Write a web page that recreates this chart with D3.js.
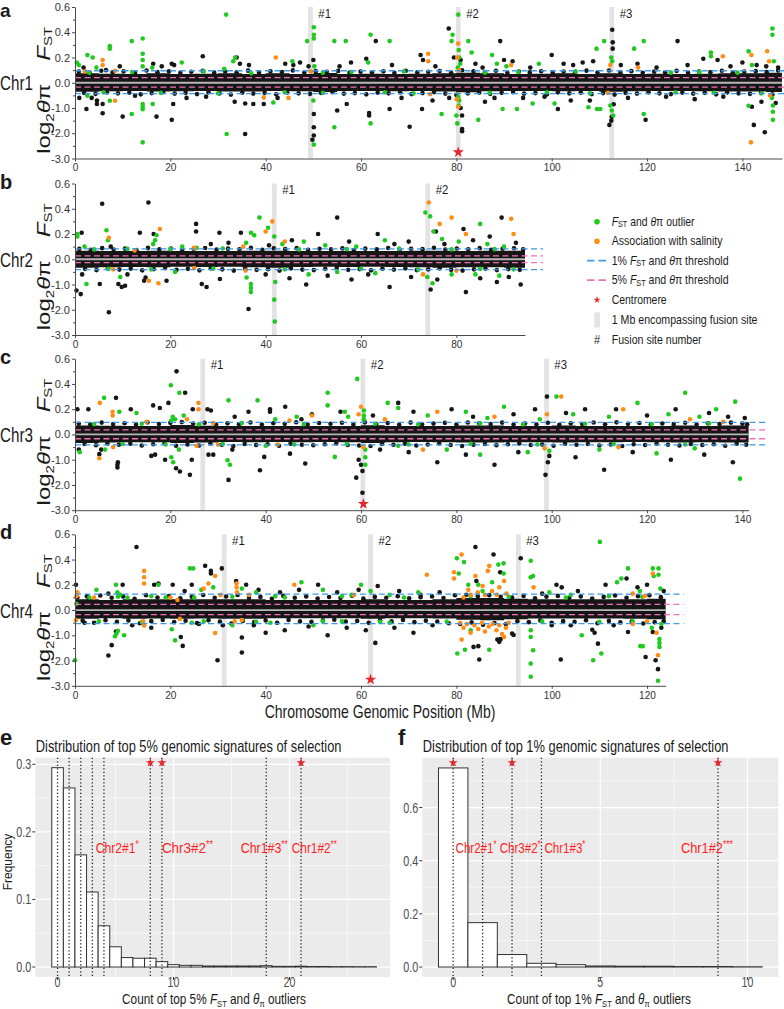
<!DOCTYPE html>
<html><head><meta charset="utf-8">
<script src="https://cdn.jsdelivr.net/npm/d3@7"></script>
<style>body{margin:0;background:#fff}text{font-family:"Liberation Sans",Arial,sans-serif}</style>
</head><body><svg id="c" width="784" height="1009"></svg>
<script>
// ---------------- DATA ----------------
const chromNames = ["Chr1","Chr2","Chr3","Chr4"];
const chromLengths = [148.3, 94.4, 141.3, 123.9];
const yTickLabels = ["0.6","0.4","0.2","0.0","-1.0","-2.0","-3.0"];
const fusionSites = [[49.4,80.4,112.6],[41.8,74.0],[26.8,60.4,98.9],[31.3,62.0,93.0]];
const centromeres = [80.4, null, 60.5, 62.0];
// thresholds: [1% FST, 1% log2pi, 5% FST, 5% log2pi]
const thresholds = [[0.095,-0.43,0.04,-0.17],[0.082,-0.41,0.026,-0.13],[0.095,-0.41,0.037,-0.17],[0.126,-0.54,0.045,-0.18]];
// dense core band: [pos, FST top, log2pi bottom]
const chr1Band = [[0,0.075,-0.36],[5,0.072,-0.34],[10,0.07,-0.33],[15,0.075,-0.35],[20,0.07,-0.34],[25,0.072,-0.33],[30,0.075,-0.35],[35,0.07,-0.35],[40,0.075,-0.33],[45,0.07,-0.34],[50,0.078,-0.37],[55,0.07,-0.33],[60,0.072,-0.33],[65,0.07,-0.34],[70,0.072,-0.33],[75,0.075,-0.35],[80,0.08,-0.38],[85,0.075,-0.34],[90,0.07,-0.33],[95,0.072,-0.33],[100,0.075,-0.34],[105,0.07,-0.33],[110,0.075,-0.36],[115,0.07,-0.34],[120,0.072,-0.33],[125,0.07,-0.33],[130,0.072,-0.34],[135,0.075,-0.35],[140,0.075,-0.35],[145,0.08,-0.37],[148.3,0.08,-0.37]];
const chr2Band = [[0,0.068,-0.34],[5,0.065,-0.32],[10,0.065,-0.31],[15,0.068,-0.32],[20,0.065,-0.3],[25,0.065,-0.31],[30,0.065,-0.3],[35,0.068,-0.32],[40,0.068,-0.34],[45,0.065,-0.31],[50,0.065,-0.3],[55,0.065,-0.31],[60,0.065,-0.3],[65,0.065,-0.31],[70,0.068,-0.32],[75,0.068,-0.34],[80,0.065,-0.32],[85,0.068,-0.32],[90,0.068,-0.34],[94.4,0.068,-0.34]];
const chr3Band = [[0,0.07,-0.34],[5,0.068,-0.32],[10,0.066,-0.31],[15,0.066,-0.31],[20,0.075,-0.34],[25,0.068,-0.32],[30,0.066,-0.3],[35,0.066,-0.31],[40,0.066,-0.3],[45,0.066,-0.31],[50,0.066,-0.3],[55,0.066,-0.31],[60,0.072,-0.34],[65,0.066,-0.31],[70,0.066,-0.3],[75,0.066,-0.31],[80,0.07,-0.32],[85,0.07,-0.32],[90,0.066,-0.31],[95,0.066,-0.31],[100,0.07,-0.32],[105,0.066,-0.31],[110,0.066,-0.31],[115,0.066,-0.3],[120,0.066,-0.31],[125,0.07,-0.32],[130,0.066,-0.31],[135,0.07,-0.32],[140,0.07,-0.32],[141.3,0.07,-0.32]];
const chr4Band = [[0,0.085,-0.34],[5,0.08,-0.32],[10,0.085,-0.34],[15,0.085,-0.33],[20,0.085,-0.34],[25,0.085,-0.33],[30,0.085,-0.34],[35,0.085,-0.34],[40,0.08,-0.32],[45,0.08,-0.32],[50,0.08,-0.32],[55,0.08,-0.32],[60,0.085,-0.34],[65,0.08,-0.32],[70,0.08,-0.32],[75,0.085,-0.33],[80,0.095,-0.38],[85,0.095,-0.4],[90,0.09,-0.36],[95,0.085,-0.33],[100,0.085,-0.33],[105,0.085,-0.33],[110,0.085,-0.33],[115,0.085,-0.34],[120,0.09,-0.36],[123.9,0.09,-0.36]];
// points: [pos Mb, value]; value >= 0 is FST, value < 0 is log2(theta_pi)
const chr1Black = [[1.8,0.12],[6.5,0.1],[9.4,0.13],[16.4,0.15],[18.2,0.13],[20.3,0.15],[20.8,0.14],[26.8,0.21],[33.9,0.2],[34.6,0.15],[36.5,0.14],[44.1,0.15],[45.8,0.14],[47.2,0.16],[49.0,0.13],[50.0,0.18],[55.5,0.13],[57.9,0.16],[61.1,0.19],[63.1,0.33],[66.5,0.14],[72.5,0.22],[73.0,0.18],[75.6,0.13],[78.4,0.43],[79.5,0.2],[80.9,0.18],[84.0,0.15],[85.5,0.12],[89.2,0.33],[90.0,0.18],[91.8,0.17],[95.5,0.12],[100.0,0.22],[102.5,0.15],[104.5,0.14],[106.5,0.16],[108.7,0.17],[112.7,0.42],[112.8,0.32],[112.8,0.27],[114.5,0.14],[118.0,0.15],[122.0,0.12],[126.4,0.33],[128.5,0.14],[131.8,0.19],[134.8,0.18],[137.5,0.13],[140.0,0.16],[143.0,0.14],[145.0,0.13],[147.5,0.12],
[0.9,-0.6],[2.4,-1.04],[3.5,-0.6],[5.8,-1.21],[5.8,-0.84],[4.6,-0.84],[4.6,-0.7],[10.0,-1.34],[12.6,-0.51],[17.1,-1.34],[20.3,-1.47],[20.6,-0.84],[23.4,-0.6],[27.5,-0.55],[33.5,-0.75],[35.7,-2.03],[35.7,-0.82],[37.4,-0.84],[39.6,-0.84],[42.5,-0.6],[49.8,-2.26],[50.1,-2.09],[50.1,-1.76],[50.1,-1.24],[55.0,-1.1],[57.0,-0.84],[61.7,-1.2],[61.7,-1.3],[66.0,-1.04],[68.5,-0.6],[70.2,-1.74],[72.8,-1.04],[75.0,-0.7],[78.5,-0.6],[81.2,-1.83],[81.2,-1.92],[81.2,-1.3],[80.9,-1.0],[86.0,-0.75],[88.0,-0.6],[94.0,-0.6],[98.5,-0.55],[101.3,-1.04],[104.0,-0.7],[108.0,-0.7],[112.1,-1.67],[112.5,-1.5],[112.6,-1.35],[113.0,-0.85],[116.0,-0.6],[119.7,-1.47],[124.0,-0.55],[130.0,-0.65],[136.0,-0.55],[142.4,-1.67],[142.0,-0.95],[144.7,-1.96],[144.0,-0.75],[147.0,-0.8]];
const chr1Fringe = [[0.8,.088],[3.1,.079],[5.5,.095],[7.9,.083],[10.2,.09],[12.6,.077],[15,.097],[17.3,.084],[19.7,.091],[22.1,.078],[24.4,.087],[26.8,.094],[29.2,.08],[31.5,.089],[33.9,.082],[36.3,.096],[38.6,.079],[41,.09],[43.4,.085],[45.7,.098],[48.1,.081],[50.5,.092],[52.8,.086],[55.2,.094],[57.6,.08],[59.9,.088],[62.3,.083],[64.7,.091],[67,.078],[69.4,.095],[71.8,.082],[74.1,.087],[76.5,.093],[78.9,.08],[81.2,.099],[83.6,.09],[86,.084],[88.3,.095],[90.7,.08],[93.1,.088],[95.4,.082],[97.8,.091],[100.2,.078],[102.5,.089],[104.9,.084],[107.3,.096],[109.6,.081],[112,.097],[114.4,.085],[116.7,.092],[119.1,.079],[121.5,.088],[123.8,.083],[126.2,.094],[128.6,.08],[130.9,.089],[133.3,.084],[135.7,.095],[138,.081],[140.4,.088],[142.8,.092],[145.1,.084],[147.5,.097],
[1.9,-.4],[4.3,-.44],[6.7,-.38],[9,-.42],[11.4,-.39],[13.8,-.46],[16.1,-.41],[18.5,-.37],[20.9,-.43],[23.2,-.4],[25.6,-.45],[28,-.38],[30.3,-.42],[32.7,-.47],[35.1,-.39],[37.4,-.43],[39.8,-.4],[42.2,-.46],[44.5,-.38],[46.9,-.42],[49.3,-.44],[51.6,-.4],[54,-.37],[56.4,-.43],[58.7,-.41],[61.1,-.46],[63.5,-.39],[65.8,-.42],[68.2,-.38],[70.6,-.45],[72.9,-.41],[75.3,-.37],[77.7,-.43],[80,-.48],[82.4,-.42],[84.8,-.39],[87.1,-.44],[89.5,-.4],[91.9,-.37],[94.2,-.43],[96.6,-.41],[99,-.46],[101.3,-.38],[103.7,-.42],[106.1,-.39],[108.4,-.45],[110.8,-.41],[113.2,-.47],[115.5,-.4],[117.9,-.43],[120.3,-.38],[122.6,-.42],[125,-.45],[127.4,-.39],[129.7,-.43],[132.1,-.4],[134.5,-.46],[136.8,-.38],[139.2,-.42],[141.6,-.44],[143.9,-.4],[146.3,-.46]];
const chr1Green = [[0.4,0.16],[0.8,0.14],[2.6,0.22],[3.7,0.2],[4.5,0.12],[7.3,0.29],[7.3,0.27],[11.9,0.33],[14.2,0.35],[14.2,0.23],[14.2,0.18],[14.2,0.13],[16.2,0.12],[22.4,0.16],[31.7,0.54],[31.3,0.11],[33.2,0.17],[33.6,0.2],[45.6,0.17],[48.7,0.33],[50.1,0.44],[50.1,0.38],[50.1,0.35],[50.2,0.13],[54.4,0.33],[56.8,0.33],[62.0,0.38],[61.5,0.16],[66.0,0.33],[79.2,0.38],[79.0,0.33],[80.4,0.54],[80.5,0.26],[80.6,0.2],[80.8,0.15],[80.3,0.12],[82.5,0.33],[83.2,0.24],[87.5,0.22],[88.5,0.15],[90.5,0.13],[97.3,0.15],[109.4,0.27],[111.0,0.33],[112.5,0.2],[112.7,0.17],[117.3,0.27],[119.3,0.33],[133.4,0.24],[133.4,0.21],[141.3,0.25],[142.0,0.14],[146.3,0.43],[146.3,0.38],[146.6,0.17],
[3,0.08],[12,0.085],[27,0.09],[37,0.075],[52,0.08],[58,0.085],[69,0.09],[86,0.08],[93,0.085],[105,0.09],[125,0.08],[131,0.085],[139,0.08],
[2.6,-0.51],[7.3,-0.71],[11.9,-1.24],[14.2,-0.84],[14.2,-0.95],[14.2,-1.05],[14.2,-2.36],[16.3,-0.84],[31.8,-2.03],[41.6,-0.78],[50.1,-2.45],[50.0,-0.7],[54.4,-1.76],[62.0,-1.61],[76.9,-1.24],[80.2,-1.61],[80.0,-1.3],[80.5,-0.9],[80.6,-0.7],[80.4,-0.55],[84.6,-1.47],[89.7,-1.04],[92.7,-1.04],[96.0,-0.82],[100.6,-0.82],[107.7,-0.97],[109.5,-1.04],[110.2,-1.04],[112.3,-0.9],[112.6,-1.1],[112.9,-1.3],[119.3,-1.24],[141.3,-0.91],[146.4,-1.47],[146.4,-1.15],[146.4,-0.9],[146.2,-0.6],
[6,-0.38],[18,-0.4],[30,-0.42],[44,-0.38],[52,-0.4],[65,-0.38],[71,-0.42],[87,-0.4],[99,-0.38],[108,-0.42],[126,-0.38],[134,-0.4],[144,-0.42]];
const chr1Orange = [[5.8,0.18],[5.8,0.14],[8.4,0.095],[2.1,0.09],[42.1,0.2],[49.5,0.09],[74.1,0.23],[74.1,0.17],[80.4,0.31],[80.2,0.2],[80.6,0.1],[91.5,0.14],[112.3,0.14],[118.1,0.12],[135.9,0.21],[141.9,0.22],[145.2,0.25],[145.6,0.17],
[8.4,-0.71],[39.6,-0.58],[44.8,-0.6],[74.5,-0.45],[80.4,-0.95],[80.1,-0.65],[111.8,-0.4],[141.8,-2.36],[145.8,-0.5]];
const chr2Black = [[1.4,0.21],[5.7,0.44],[7.5,0.1],[13.6,0.21],[15.4,0.45],[16.5,0.2],[25.4,0.28],[25.4,0.22],[30.3,0.21],[32.2,0.13],[34.8,0.21],[28.5,0.12],[40.7,0.11],[45.5,0.15],[51.0,0.2],[55.0,0.33],[57.5,0.14],[63.5,0.2],[67.0,0.12],[70.0,0.14],[75.7,0.22],[77.5,0.12],[81.5,0.24],[83.5,0.15],[87.0,0.18],[89.5,0.33],[92.5,0.13],
[0.3,-1.24],[1.2,-1.38],[1.5,-0.6],[5.2,-0.98],[7.1,-2.1],[9.1,-0.98],[9.8,-1.1],[10.5,-1.05],[11.0,-0.6],[14.5,-0.85],[14.8,-0.72],[19.2,-0.85],[26.6,-0.98],[27.6,-1.1],[30.4,-0.78],[36.4,-1.97],[40.0,-0.6],[45.0,-0.75],[48.5,-1.0],[53.0,-0.65],[58.0,-0.8],[61.5,-0.6],[66.0,-1.1],[70.5,-0.7],[74.6,-1.2],[76.0,-0.8],[82.0,-1.3],[85.0,-0.75],[88.5,-0.9],[91.0,-0.7],[93.5,-1.0]];
const chr2Fringe = [[0.9,.082],[3.3,.074],[5.7,.088],[8.1,.077],[10.5,.084],[12.9,.072],[15.3,.09],[17.7,.078],[20.1,.085],[22.5,.073],[24.9,.083],[27.3,.089],[29.7,.076],[32.1,.084],[34.5,.079],[36.9,.09],[39.3,.075],[41.7,.087],[44.1,.08],[46.5,.088],[48.9,.074],[51.3,.083],[53.7,.078],[56.1,.086],[58.5,.073],[60.9,.084],[63.3,.079],[65.7,.089],[68.1,.075],[70.5,.083],[72.9,.08],[75.3,.091],[77.7,.077],[80.1,.085],[82.5,.079],[84.9,.088],[87.3,.074],[89.7,.083],[92.1,.087],[94,.078],
[2.1,-.38],[4.5,-.43],[6.9,-.36],[9.3,-.41],[11.7,-.37],[14.1,-.44],[16.5,-.39],[18.9,-.35],[21.3,-.42],[23.7,-.38],[26.1,-.44],[28.5,-.36],[30.9,-.4],[33.3,-.45],[35.7,-.38],[38.1,-.42],[40.5,-.39],[42.9,-.45],[45.3,-.36],[47.7,-.41],[50.1,-.43],[52.5,-.38],[54.9,-.35],[57.3,-.42],[59.7,-.39],[62.1,-.44],[64.5,-.37],[66.9,-.41],[69.3,-.36],[71.7,-.43],[74.1,-.4],[76.5,-.36],[78.9,-.42],[81.3,-.45],[83.7,-.4],[86.1,-.37],[88.5,-.43],[90.9,-.39],[93.3,-.42]];
const chr2Green = [[0.5,0.2],[0.5,0.18],[2.0,0.1],[6.6,0.23],[6.9,0.15],[16.4,0.12],[16.8,0.15],[17.1,0.19],[22.5,0.1],[25.5,0.09],[35.9,0.13],[36.9,0.21],[37.6,0.19],[38.7,0.33],[40.5,0.25],[41.8,0.18],[43.5,0.12],[48.0,0.14],[52.5,0.11],[59.0,0.1],[65.0,0.15],[73.5,0.37],[74.5,0.34],[75.2,0.22],[77.0,0.16],[80.5,0.14],[85.0,0.28],[86.5,0.12],[90.0,0.1],
[4,0.078],[11,0.082],[20,0.08],[31,0.085],[47,0.078],[57,0.08],[68,0.084],[79,0.078],[88,0.08],
[2.4,-0.98],[9.5,-0.7],[21.0,-0.5],[36.9,-1.3],[36.9,-1.14],[36.9,-0.98],[36.0,-0.72],[41.9,-2.47],[41.8,-1.6],[42.0,-0.9],[49.0,-0.6],[55.0,-0.5],[63.0,-0.55],[73.9,-0.7],[75.0,-0.95],[79.0,-0.6],[84.0,-0.6],[89.0,-0.65],
[7,-0.38],[16,-0.4],[29,-0.37],[44,-0.4],[60,-0.38],[72,-0.41],[85,-0.38],[92,-0.4]];
const chr2Orange = [[7.1,0.17],[12.5,0.07],[17.8,0.24],[25.0,0.09],[35.3,0.1],[40.0,0.22],[41.4,0.3],[44.0,0.14],[74.2,0.45],[76.5,0.28],[79.0,0.33],[82.0,0.2],[91.5,0.32],[92.0,0.2],
[8.0,-0.4],[15.5,-0.85],[17.5,-0.95],[25.0,-0.35],[35.8,-0.45],[73.0,-0.6],[80.0,-0.45]];
const chr3Black = [[0.5,0.2],[2.8,0.2],[8.6,0.29],[11.7,0.2],[16.4,0.23],[17.8,0.21],[19.6,0.25],[21.3,0.5],[23.1,0.33],[24.7,0.2],[27.8,0.2],[28.5,0.19],[33.5,0.14],[36.4,0.18],[40.9,0.2],[40.9,0.18],[44.1,0.22],[47.5,0.12],[49.7,0.16],[55.7,0.18],[62.5,0.15],[67.8,0.25],[71.0,0.18],[79.0,0.2],[83.5,0.14],[92.0,0.16],[96.5,0.2],[99.0,0.3],[103.0,0.17],[107.0,0.2],[113.5,0.2],[120.0,0.15],[126.0,0.2],[133.0,0.17],[137.0,0.14],[140.5,0.13],
[0.8,-0.6],[5.1,-0.78],[5.5,-0.6],[8.9,-1.31],[8.9,-1.2],[9.0,-1.1],[16.0,-0.85],[16.8,-0.8],[18.9,-1.0],[21.2,-1.34],[22.0,-1.47],[24.1,-1.6],[24.5,-1.0],[28.0,-0.8],[29.0,-0.8],[32.2,-1.8],[33.0,-0.6],[38.8,-1.42],[39.7,-0.89],[45.1,-0.76],[48.3,-1.15],[59.0,-1.71],[60.3,-1.45],[60.3,-2.31],[59.5,-1.0],[60.0,-1.2],[64.0,-0.6],[70.0,-0.7],[76.0,-1.1],[82.0,-0.8],[88.0,-1.2],[93.0,-0.7],[98.7,-1.6],[99.2,-1.1],[99.5,-0.85],[105.0,-0.9],[111.0,-1.4],[117.0,-0.7],[125.0,-1.0],[132.0,-0.8],[138.0,-1.1]];
const chr3Fringe = [[0.8,.085],[3.2,.078],[5.6,.094],[8,.082],[10.4,.089],[12.8,.077],[15.2,.096],[17.6,.083],[20,.092],[22.4,.098],[24.8,.086],[27.2,.093],[29.6,.079],[32,.088],[34.4,.081],[36.8,.095],[39.2,.078],[41.6,.089],[44,.084],[46.4,.097],[48.8,.08],[51.2,.091],[53.6,.085],[56,.093],[58.4,.079],[60.8,.096],[63.2,.082],[65.6,.09],[68,.077],[70.4,.094],[72.8,.081],[75.2,.086],[77.6,.092],[80,.079],[82.4,.095],[84.8,.089],[87.2,.083],[89.6,.094],[92,.079],[94.4,.087],[96.8,.081],[99.2,.093],[101.6,.077],[104,.088],[106.4,.083],[108.8,.095],[111.2,.08],[113.6,.096],[116,.084],[118.4,.091],[120.8,.078],[123.2,.087],[125.6,.082],[128,.093],[130.4,.079],[132.8,.088],[135.2,.083],[137.6,.094],[140,.086],[141,.08],
[2,-.38],[4.4,-.43],[6.8,-.36],[9.2,-.41],[11.6,-.37],[14,-.44],[16.4,-.39],[18.8,-.35],[21.2,-.45],[23.6,-.4],[26,-.44],[28.4,-.36],[30.8,-.41],[33.2,-.46],[35.6,-.38],[38,-.42],[40.4,-.39],[42.8,-.45],[45.2,-.37],[47.6,-.41],[50,-.43],[52.4,-.39],[54.8,-.36],[57.2,-.42],[59.6,-.44],[62,-.46],[64.4,-.38],[66.8,-.41],[69.2,-.37],[71.6,-.44],[74,-.4],[76.4,-.36],[78.8,-.42],[81.2,-.46],[83.6,-.41],[86,-.38],[88.4,-.43],[90.8,-.39],[93.2,-.36],[95.6,-.42],[98,-.4],[100.4,-.45],[102.8,-.37],[105.2,-.41],[107.6,-.38],[110,-.44],[112.4,-.4],[114.8,-.46],[117.2,-.39],[119.6,-.42],[122,-.37],[124.4,-.41],[126.8,-.44],[129.2,-.38],[131.6,-.42],[134,-.39],[136.4,-.45],[138.8,-.37],[140.8,-.41]];
const chr3Green = [[6.1,0.29],[9.3,0.18],[12.9,0.17],[20.1,0.39],[21.9,0.33],[20.5,0.14],[20.2,0.11],[21.0,0.12],[22.8,0.15],[32.2,0.27],[38.3,0.27],[42.0,0.12],[46.5,0.14],[53.0,0.33],[53.0,0.23],[56.6,0.18],[57.3,0.14],[59.2,0.44],[60.6,0.19],[60.6,0.15],[60.6,0.12],[65.6,0.25],[67.8,0.21],[74.0,0.15],[82.0,0.18],[86.5,0.13],[90.0,0.22],[97.5,0.12],[101.0,0.3],[104.5,0.16],[112.0,0.14],[118.0,0.25],[124.5,0.16],[128.0,0.33],[131.0,0.14],[134.5,0.2],[138.5,0.26],
[4,0.082],[14,0.085],[26,0.08],[35,0.09],[48,0.082],[63,0.085],[72,0.08],[85,0.088],[94,0.08],[107,0.085],[121,0.082],[133,0.088],
[1.0,-0.7],[6.3,-0.6],[20.2,-0.9],[20.6,-1.1],[21.8,-0.6],[32.0,-1.02],[32.5,-1.2],[40.0,-0.45],[54.5,-0.89],[60.9,-0.9],[60.9,-1.2],[60.9,-0.6],[67.8,-0.45],[78.0,-0.6],[85.0,-0.8],[95.0,-0.7],[99.5,-0.65],[110.0,-0.6],[122.0,-0.75],[130.0,-0.55],[139.5,-1.75],
[10,-0.38],[19,-0.4],[31,-0.38],[46,-0.4],[57,-0.38],[70,-0.4],[83,-0.37],[97,-0.4],[113,-0.38],[128,-0.4]];
const chr3Orange = [[5.2,0.25],[7.9,0.18],[7.9,0.15],[15.0,0.1],[23.5,0.12],[25.9,0.25],[25.9,0.2],[29.0,0.09],[45.0,0.11],[49.7,0.15],[59.5,0.16],[60.0,0.22],[65.0,0.12],[76.0,0.18],[88.0,0.14],[99.0,0.16],[102.0,0.3],[115.0,0.2],[129.0,0.12],[136.0,0.1],
[5.1,-0.94],[8.0,-0.5],[25.5,-0.45],[30.0,-0.4],[42.5,-0.4],[60.5,-0.5],[73.0,-0.6],[98.5,-0.55],[114.0,-0.5]];
const chr4Black = [[0.2,0.2],[2.5,0.11],[7.0,0.13],[10.0,0.2],[12.9,0.5],[16.6,0.2],[17.5,0.21],[20.5,0.2],[23.0,0.15],[24.5,0.2],[27.3,0.35],[28.5,0.31],[28.5,0.29],[30.8,0.33],[33.8,0.23],[35.9,0.2],[38.5,0.16],[43.0,0.14],[47.0,0.16],[51.0,0.2],[55.0,0.14],[59.5,0.16],[63.5,0.19],[68.0,0.15],[72.5,0.12],[76.5,0.14],[84.0,0.5],[87.8,0.44],[84.2,0.23],[89.2,0.3],[93.5,0.41],[98.0,0.13],[102.1,0.18],[101.0,0.2],[105.5,0.15],[111.3,0.2],[115.7,0.25],[118.0,0.18],[120.0,0.2],[123.5,0.15],
[2.0,-0.5],[7.0,-1.8],[7.7,-1.39],[8.6,-0.85],[12.0,-0.6],[16.0,-0.7],[22.2,-1.07],[22.6,-1.42],[26.0,-0.55],[29.9,-1.99],[31.0,-0.6],[35.0,-1.09],[35.0,-1.68],[37.5,-0.6],[40.0,-0.9],[44.0,-0.8],[49.0,-0.65],[53.0,-1.0],[57.0,-0.7],[61.0,-0.8],[63.0,-1.3],[67.0,-0.7],[71.0,-0.9],[75.0,-0.6],[83.6,-1.46],[84.6,-1.43],[84.8,-1.96],[88.6,-1.17],[89.0,-1.26],[89.3,-1.15],[91.7,-0.93],[92.0,-0.99],[100.0,-0.6],[101.9,-1.96],[104.0,-0.6],[108.5,-0.78],[109.0,-0.9],[109.7,-1.33],[113.0,-0.6],[116.0,-0.87],[119.7,-1.86],[121.2,-0.87],[121.8,-1.99],[122.3,-2.34],[123.0,-0.7]];
const chr4Fringe = [[0.5,.1],[2.9,.092],[5.3,.115],[7.7,.098],[10.1,.108],[12.5,.09],[14.9,.118],[17.3,.1],[19.7,.111],[22.1,.094],[24.5,.105],[26.9,.119],[29.3,.097],[31.7,.107],[34.1,.12],[36.5,.095],[38.9,.104],[41.3,.09],[43.7,.112],[46.1,.097],[48.5,.108],[50.9,.092],[53.3,.103],[55.7,.096],[58.1,.113],[60.5,.091],[62.9,.104],[65.3,.098],[67.7,.11],[70.1,.093],[72.5,.102],[74.9,.108],[77.3,.095],[79.7,.117],[82.1,.121],[84.5,.11],[86.9,.118],[89.3,.105],[91.7,.099],[94.1,.112],[96.5,.094],[98.9,.106],[101.3,.112],[103.7,.097],[106.1,.108],[108.5,.092],[110.9,.104],[113.3,.115],[115.7,.098],[118.1,.11],[120.5,.118],[122.9,.102],
[1.6,-.42],[4,-.5],[6.4,-.4],[8.8,-.47],[11.2,-.41],[13.6,-.52],[16,-.44],[18.4,-.39],[20.8,-.48],[23.2,-.42],[25.6,-.51],[28,-.4],[30.4,-.46],[32.8,-.53],[35.2,-.43],[37.6,-.48],[40,-.41],[42.4,-.5],[44.8,-.39],[47.2,-.45],[49.6,-.47],[52,-.41],[54.4,-.38],[56.8,-.46],[59.2,-.43],[61.6,-.5],[64,-.4],[66.4,-.45],[68.8,-.39],[71.2,-.48],[73.6,-.42],[76,-.46],[78.4,-.52],[80.8,-.55],[83.2,-.49],[85.6,-.58],[88,-.51],[90.4,-.56],[92.8,-.44],[95.2,-.48],[97.6,-.41],[100,-.5],[102.4,-.44],[104.8,-.47],[107.2,-.4],[109.6,-.52],[112,-.43],[114.4,-.49],[116.8,-.45],[119.2,-.53],[121.6,-.48],[123.5,-.44]];
const chr4Green = [[0.3,0.05],[4.5,0.16],[8.6,0.2],[8.9,0.14],[9.5,0.12],[11.0,0.1],[17.5,0.2],[19.0,0.1],[24.1,0.33],[24.8,0.33],[26.5,0.16],[29.0,0.18],[35.0,0.17],[38.0,0.14],[42.0,0.11],[47.5,0.22],[52.0,0.16],[58.0,0.12],[60.0,0.2],[62.0,0.15],[66.0,0.12],[72.0,0.14],[80.1,0.41],[81.6,0.38],[80.5,0.29],[82.5,0.2],[84.6,0.2],[88.8,0.36],[89.9,0.37],[89.9,0.29],[85.5,0.15],[87.5,0.22],[95.6,0.39],[95.6,0.26],[96.1,0.27],[99.5,0.14],[104.0,0.12],[110.1,0.54],[113.7,0.22],[114.6,0.25],[116.0,0.33],[118.5,0.15],[121.2,0.33],[122.4,0.33],[121.4,0.27],[122.4,0.28],[122.8,0.17],
[3,0.1],[9,0.105],[16,0.11],[25,0.1],[33,0.105],[44,0.1],[56,0.11],[69,0.1],[83,0.11],[91,0.105],[103,0.1],[112,0.11],[119,0.105],
[0.0,-1.99],[8.7,-0.93],[9.0,-0.82],[8.4,-1.04],[10.3,-1.0],[20.3,-0.76],[21.0,-1.2],[24.5,-0.5],[33.0,-0.6],[41.0,-0.5],[50.0,-0.6],[56.0,-0.45],[66.0,-0.5],[80.2,-1.72],[81.8,-1.57],[86.9,-1.57],[83.0,-0.8],[95.6,-0.8],[95.6,-1.07],[96.1,-1.59],[95.6,-2.12],[95.6,-2.64],[106.3,-1.0],[108.7,-1.99],[110.4,-1.72],[118.6,-1.43],[119.1,-1.43],[122.6,-1.46],[122.6,-1.3],[122.6,-1.15],[122.3,-2.8],[121.0,-0.7],[123.0,-0.55],
[5,-0.45],[14,-0.48],[27,-0.45],[38,-0.47],[52,-0.45],[64,-0.47],[78,-0.46],[98,-0.45],[110,-0.47],[117,-0.45]];
const chr4Orange = [[0.5,0.14],[0.3,0.11],[4.0,0.1],[14.5,0.31],[14.5,0.26],[14.5,0.21],[20.0,0.1],[21.5,0.08],[27.0,0.17],[28.0,0.21],[29.4,0.27],[30.5,0.12],[33.9,0.21],[33.9,0.18],[34.0,0.14],[36.5,0.12],[46.0,0.2],[58.5,0.12],[73.8,0.28],[79.5,0.3],[79.5,0.25],[81.1,0.44],[84.0,0.27],[86.9,0.35],[86.6,0.31],[90.0,0.23],[82.5,0.16],[83.0,0.12],[84.5,0.14],[85.5,0.19],[86.0,0.12],[87.5,0.15],[88.5,0.12],[89.0,0.18],[90.5,0.13],[81.5,0.1],[96.2,0.18],[121.2,0.29],[117.0,0.13],[119.5,0.11],
[0.2,-0.4],[14.5,-0.61],[14.3,-0.45],[22.0,-0.35],[29.4,-0.91],[33.5,-0.45],[35.0,-0.4],[81.1,-1.17],[80.8,-0.5],[81.5,-0.7],[82.2,-0.55],[83.0,-0.9],[83.8,-0.6],[84.6,-0.75],[85.4,-0.5],[86.0,-0.85],[86.8,-0.65],[87.6,-0.55],[88.4,-0.8],[89.0,-0.6],[89.6,-0.95],[90.0,-1.07],[90.4,-0.7],[91.0,-0.5],[117.0,-0.55],[120.0,-0.45],[122.3,-1.79],[122.0,-0.9]];
// histograms (frequency by outlier count)
const top5Freq = [0.295,0.265,0.166,0.111,0.061,0.030,0.014,0.013,0.013,0.008,0.0035,0.0025,0.0025,0.0015,0.0015,0.0015,0.0015,0.0015,0.002,0.001,0.001,0.0012,0.0008,0.0008,0.0006,0.0006,0.0005,0.0005];
const top1Freq = [0.749,0.167,0.047,0.014,0.009,0.004,0.003,0.003,0.002,0.002,0.001];
const top5Lines = [0,1,2,3,4,8,9,18,21];
const top5Stars = [8,9,21];
const top5Labels = [["Chr2#1","*",3.3],["Chr3#2","**",9.0],["Chr1#3","**",15.8],["Chr1#2","**",20.2]];
const top1Lines = [0,1,2,3,9];
const top1Stars = [0,2,9];
const top1Labels = [["Chr2#1","*",0.08],["Chr3#2","*",1.58],["Chr1#3","*",3.1],["Chr1#2","***",7.74]];

// ---------------- DRAWING ----------------
const svg = d3.select("#c");
const SQ = 0.76;
function txt(parent, x, y, parts, o = {}) {
  const g = parent.append("g");
  const t = g.append("text").attr("font-size", o.size || 12).attr("fill", o.fill || "#1a1a1a").attr("text-anchor", o.anchor || "start");
  if (o.weight) t.attr("font-weight", o.weight);
  let cur = 0;
  (Array.isArray(parts) ? parts : [parts]).forEach(p => {
    const st = typeof p === "string" ? {t: p} : p;
    const ts = t.append("tspan").text(st.t);
    if (st.i) ts.attr("font-style", "italic");
    if (st.size) ts.attr("font-size", st.size);
    const sh = st.shift || 0;
    if (sh !== cur) { ts.attr("dy", sh - cur); cur = sh; }
  });
  let sx = o.sx !== undefined ? o.sx : SQ;
  if (o.width) sx = o.width / t.node().getComputedTextLength();
  g.attr("transform", `translate(${x},${y}) scale(${sx},1)` + (o.rot ? ` rotate(${o.rot})` : ""));
  return g;
}
const C_BLACK = "#161616", C_GREEN = "#1fc91f", C_ORANGE = "#ff8c14", C_BLUE = "#3d9be9", C_PINK = "#ef72b6", C_RED = "#e5262d";
const UNIT = 25.25, PXMB = 4.767, X0 = 75;
const panelTops = [7, 183.5, 358.7, 534.3];
const letters = ["a","b","c","d"];
const bands = [chr1Band, chr2Band, chr3Band, chr4Band];
const blacks = [chr1Black, chr2Black, chr3Black, chr4Black];
const fringes = [chr1Fringe, chr2Fringe, chr3Fringe, chr4Fringe];
const greens = [chr1Green, chr2Green, chr3Green, chr4Green];
const oranges = [chr1Orange, chr2Orange, chr3Orange, chr4Orange];

chromNames.forEach((name, k) => {
  const top = panelTops[k], bottom = top + 6 * UNIT, len = chromLengths[k];
  const g = svg.append("g");
  const x = d3.scaleLinear().domain([0, len]).range([X0, X0 + PXMB * len]);
  const y = d3.scaleLinear().domain([-3, 3]).range([bottom, top]);
  const yv = v => y(v >= 0 ? v / 0.2 : v);
  fusionSites[k].forEach((f, i) => {
    g.append("rect").attr("x", x(f - 0.5)).attr("width", x(f + 0.5) - x(f - 0.5)).attr("y", top).attr("height", bottom - top).attr("fill", "#e3e3e3");
    txt(g, x(f + 0.5) + 5.5, top + 10.5, "#" + (i + 1), {size: 12, sx: 0.95});
  });
  const area = d3.area().x(d => x(d[0])).y0(d => yv(d[2])).y1(d => yv(d[1])).curve(d3.curveStepAfter);
  g.append("path").datum(bands[k]).attr("d", area).attr("fill", C_BLACK);
  const dots = (data, col) => g.append("g").selectAll("circle").data(data).join("circle")
    .attr("cx", d => x(d[0])).attr("cy", d => yv(d[1])).attr("r", 2.3).attr("fill", col);
  dots(fringes[k], C_BLACK);
  dots(blacks[k], C_BLACK);
  dots(greens[k], C_GREEN);
  dots(oranges[k], C_ORANGE);
  g.append("line").attr("x1", x(0)).attr("x2", x(len)).attr("y1", y(0)).attr("y2", y(0)).attr("stroke", "#b8b8b8").attr("stroke-width", 1.8);
  const xEnd = Math.min(x(len) + 18, 784);
  thresholds[k].forEach((v, i) => {
    g.append("line").attr("x1", x(0)).attr("x2", xEnd).attr("y1", yv(v)).attr("y2", yv(v))
      .attr("stroke", i < 2 ? C_BLUE : C_PINK).attr("stroke-width", 1.3).attr("stroke-dasharray", "6,3.5");
  });
  if (centromeres[k] !== null) {
    g.append("path").attr("d", d3.symbol(d3.symbolStar, 40)()).attr("transform", `translate(${x(centromeres[k])},${y(-2.75)})`).attr("fill", C_RED);
  }
  const ya = g.append("g").attr("transform", `translate(${X0},0)`)
    .call(d3.axisLeft(y).tickValues([3,2,1,0,-1,-2,-3]).tickFormat((d, i) => yTickLabels[i]).tickSize(3).tickPadding(2).tickSizeOuter(0));
  g.append("g").attr("transform", `translate(${X0},0)`)
    .call(d3.axisLeft(y).tickValues([2.5,1.5,0.5,-0.5,-1.5,-2.5]).tickFormat("").tickSize(2).tickSizeOuter(0))
    .call(s => s.select(".domain").remove());
  const xa = g.append("g").attr("transform", `translate(0,${bottom})`)
    .call(d3.axisBottom(x).tickValues(d3.range(0, len, 20)).tickSize(3).tickPadding(2).tickSizeOuter(0));
  [ya, xa].forEach(a => {
    a.selectAll("path,line").attr("stroke", "#4a4a4a");
    a.selectAll("text").attr("font-size", 11).attr("fill", "#333").attr("font-family", '"Liberation Sans",Arial,sans-serif');
  });
  g.selectAll(".tick line").attr("stroke", "#4a4a4a");
  xa.selectAll("text").attr("transform", "scale(0.92,1)");
  txt(g, 0, k === 0 ? 17 : top + 5, letters[k], {size: k === 0 ? 19 : 20, weight: "bold", sx: 1});
  txt(g, 0, y(0) + 7.5, name, {size: 20, width: 33});
  txt(g, 50, y(0) - 39, [{t: "F", i: true}, {t: "ST", size: 15, shift: 3}], {size: 24, anchor: "middle", rot: -90, sx: 0.74});
  txt(g, 50, y(0) + 36, ["log", {t: "2", size: 15, shift: 5}, {t: "θ", i: true}, "π"], {size: 24, anchor: "middle", rot: -90, sx: 0.74});
});
txt(svg, 380, 718, "Chromosome Genomic Position (Mb)", {size: 18, anchor: "middle", width: 231});

// legend
const L = svg.append("g");
const lx = 597, tx = 611.7;
const rows = [225.7, 245.2, 264.7, 284.2, 303.9, 323.9, 344];
L.append("circle").attr("cx", lx).attr("cy", rows[0] - 4).attr("r", 2.8).attr("fill", C_GREEN);
L.append("circle").attr("cx", lx).attr("cy", rows[1] - 4).attr("r", 2.8).attr("fill", C_ORANGE);
L.append("line").attr("x1", 587).attr("x2", 606).attr("y1", rows[2] - 4).attr("y2", rows[2] - 4).attr("stroke", C_BLUE).attr("stroke-width", 1.8).attr("stroke-dasharray", "7.5,4");
L.append("line").attr("x1", 587).attr("x2", 606).attr("y1", rows[3] - 4).attr("y2", rows[3] - 4).attr("stroke", C_PINK).attr("stroke-width", 1.8).attr("stroke-dasharray", "7.5,4");
L.append("path").attr("d", d3.symbol(d3.symbolStar, 16)()).attr("transform", `translate(${lx},${rows[4] - 4})`).attr("fill", C_RED);
L.append("rect").attr("x", 594.3).attr("y", rows[5] - 11.5).attr("width", 5.7).attr("height", 15).attr("fill", "#e3e3e3");
txt(L, lx, rows[6], "#", {size: 13, anchor: "middle", sx: 0.85});
const FST = [{t: "F", i: true}, {t: "ST", size: 9, shift: 1.5}];
const THP = [{t: " and ", shift: 0}, {t: "θ", i: true}, "π"];
txt(L, tx, rows[0], [...FST, ...THP, " outlier"], {size: 13, width: 83});
txt(L, tx, rows[1], "Association with salinity", {size: 13, width: 111});
txt(L, tx, rows[2], ["1% ", ...FST, ...THP, " threshold"], {size: 13, width: 117});
txt(L, tx, rows[3], ["5% ", ...FST, ...THP, " threshold"], {size: 13, width: 117});
txt(L, tx, rows[4], "Centromere", {size: 13, width: 55});
txt(L, tx, rows[5], "1 Mb encompassing fusion site", {size: 13, width: 146});
txt(L, tx, rows[6], "Fusion site number", {size: 13, width: 90});

// histograms
function hist(H) {
  const g = svg.append("g");
  const PT = 757.7, PB = 977;
  const x = d3.scaleLinear().domain(H.xdom).range([H.left, H.right]);
  const y = d3.scaleLinear().domain(H.ydom).range([PB, PT]);
  g.append("rect").attr("x", H.left).attr("y", PT).attr("width", H.right - H.left).attr("height", PB - PT).attr("fill", "#ebebeb");
  H.xminor.forEach(v => g.append("line").attr("x1", x(v)).attr("x2", x(v)).attr("y1", PT).attr("y2", PB).attr("stroke", "#fff").attr("stroke-width", 0.6));
  H.yminor.forEach(v => g.append("line").attr("x1", H.left).attr("x2", H.right).attr("y1", y(v)).attr("y2", y(v)).attr("stroke", "#fff").attr("stroke-width", 0.6));
  H.xmajor.forEach(v => g.append("line").attr("x1", x(v)).attr("x2", x(v)).attr("y1", PT).attr("y2", PB).attr("stroke", "#fff").attr("stroke-width", 1.2));
  H.ymajor.forEach(v => g.append("line").attr("x1", H.left).attr("x2", H.right).attr("y1", y(v)).attr("y2", y(v)).attr("stroke", "#fff").attr("stroke-width", 1.2));
  g.append("g").selectAll("rect").data(H.values).join("rect")
    .attr("x", (d, i) => x(i - 0.5)).attr("width", (d, i) => x(i + 0.5) - x(i - 0.5))
    .attr("y", d => y(d)).attr("height", d => y(0) - y(d))
    .attr("fill", "#fff").attr("stroke", "#333").attr("stroke-width", 1);
  H.lines.forEach(v => g.append("line").attr("x1", x(v)).attr("x2", x(v)).attr("y1", PT).attr("y2", PB).attr("stroke", "#222").attr("stroke-width", 1.3).attr("stroke-dasharray", "1.2,2.3"));
  H.stars.forEach(v => g.append("path").attr("d", d3.symbol(d3.symbolStar, 26)()).attr("transform", `translate(${x(v)},762.7)`).attr("fill", C_RED));
  H.labels.forEach((l, i) => txt(g, x(l[2]), 853, [l[0], {t: l[1], size: 10, shift: -5}], {size: 15, fill: "#ff1f1f", width: H.labelW[i]}));
  H.ymajor.forEach((v, i) => {
    g.append("line").attr("x1", H.left - 3).attr("x2", H.left).attr("y1", y(v)).attr("y2", y(v)).attr("stroke", "#333").attr("stroke-width", 1);
    txt(g, H.left - 4, y(v) + 5, H.yfmt[i], {size: 15, anchor: "end", fill: "#4d4d4d", sx: 0.72});
  });
  H.xmajor.forEach(v => {
    g.append("line").attr("x1", x(v)).attr("x2", x(v)).attr("y1", PB).attr("y2", PB + 3).attr("stroke", "#333").attr("stroke-width", 1);
    txt(g, x(v), 987, String(v), {size: 14, anchor: "middle", fill: "#4d4d4d", sx: 0.76});
  });
  txt(g, H.left + 0.5, 752, H.title, {size: 16, width: 306});
  txt(g, H.xtitleX, 1004, [H.xtitlePre, {t: "F", i: true}, {t: "ST", size: 9, shift: 3}, {t: " and ", shift: 0}, {t: "θ", i: true}, {t: "π", size: 9, shift: 3}, {t: " outliers", shift: 0}], {size: 14, anchor: "middle", width: 184});
  txt(g, H.letterX, 745, H.letter, {size: 22, weight: "bold", sx: 1});
}
hist({left: 35.3, right: 390, xdom: [-1.92, 28.67], ydom: [-0.01475, 0.30975], values: top5Freq,
  xmajor: [0, 10, 20], xminor: [5, 15, 25], ymajor: [0, 0.1, 0.2, 0.3], yminor: [0.05, 0.15, 0.25], yfmt: ["0.0","0.1","0.2","0.3"],
  lines: top5Lines, stars: top5Stars, labels: top5Labels, labelW: [43, 51, 47, 45],
  title: "Distribution of top 5% genomic signatures of selection", xtitlePre: "Count of top 5% ", xtitleX: 214, letter: "e", letterX: 0});
hist({left: 422.3, right: 778.3, xdom: [-1.05, 11.05], ydom: [-0.0375, 0.7875], values: top1Freq,
  xmajor: [0, 5, 10], xminor: [2.5, 7.5], ymajor: [0, 0.2, 0.4, 0.6], yminor: [0.1, 0.3, 0.5, 0.7], yfmt: ["0.0","0.2","0.4","0.6"],
  lines: top1Lines, stars: top1Stars, labels: top1Labels, labelW: [41, 41, 41, 52],
  title: "Distribution of top 1% genomic signatures of selection", xtitlePre: "Count of top 1% ", xtitleX: 599, letter: "f", letterX: 398});
txt(svg, 11.5, 862, "Frequency", {size: 12, anchor: "middle", rot: -90, sx: 1});
</script></body></html>
